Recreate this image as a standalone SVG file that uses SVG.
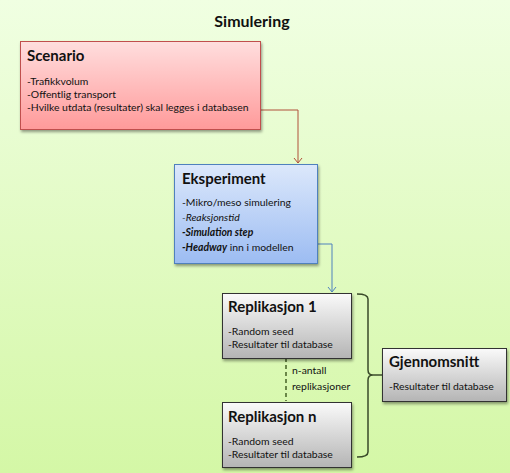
<svg xmlns="http://www.w3.org/2000/svg" width="510" height="473" viewBox="0 0 510 473">
<defs>
<linearGradient id="bg" x1="0" y1="0" x2="0" y2="1"><stop offset="0" stop-color="#f0ffe2"/><stop offset="1" stop-color="#d4f7a6"/></linearGradient>
<linearGradient id="gRed" x1="0" y1="0" x2="0" y2="1"><stop offset="0" stop-color="#ffdede"/><stop offset="1" stop-color="#ff9a9a"/></linearGradient>
<linearGradient id="gBlue" x1="0" y1="0" x2="0" y2="1"><stop offset="0" stop-color="#dce8fb"/><stop offset="1" stop-color="#9cbcf2"/></linearGradient>
<linearGradient id="gGray" x1="0" y1="0" x2="0" y2="1"><stop offset="0" stop-color="#fafafa"/><stop offset="1" stop-color="#b4b4b4"/></linearGradient>
<filter id="sh" x="-10%" y="-10%" width="130%" height="130%"><feGaussianBlur in="SourceAlpha" stdDeviation="1.5"/><feOffset dx="1" dy="2"/><feComponentTransfer><feFuncA type="linear" slope="0.4"/></feComponentTransfer><feMerge><feMergeNode/><feMergeNode in="SourceGraphic"/></feMerge></filter>
<marker id="arR" markerWidth="10" markerHeight="10" refX="5" refY="8" markerUnits="userSpaceOnUse" viewBox="0 0 10 10"><path d="M1,3 L5,8 L9,3" fill="none" stroke="#b0503a" stroke-width="1"/></marker>
<marker id="arB" markerWidth="10" markerHeight="10" refX="5" refY="8" markerUnits="userSpaceOnUse" viewBox="0 0 10 10"><path d="M1,3 L5,8 L9,3" fill="none" stroke="#4f81bd" stroke-width="1"/></marker>
</defs>
<style>
text{font-family:Lato,"Liberation Sans",sans-serif;fill:#111}
.t{font-weight:bold;font-size:15px}
.b{font-size:10.4px}
.i{font-style:italic}
.bi{font-style:italic;font-weight:bold}
.red{fill:url(#gRed);stroke:#c0504d;stroke-width:1}
.blue{fill:url(#gBlue);stroke:#4f81bd;stroke-width:1}
.gray{fill:url(#gGray);stroke:#333;stroke-width:1}
</style>
<rect width="510" height="473" fill="url(#bg)"/>
<text x="252" y="27" text-anchor="middle" style="font-weight:bold;font-size:16px">Simulering</text>
<g id="connectors" fill="none">
<path d="M260,110 H298 V163" stroke="#b0503a" marker-end="url(#arR)"/>
<path d="M317,244 H332 V292" stroke="#4f81bd" marker-end="url(#arB)"/>
<path d="M286,358 V401" stroke="#2f4a10" stroke-dasharray="4,3" stroke-width="1.3"/>
<path d="M357,294 Q368,294 368,299 V370 Q368,375 373,375 Q368,375 368,380 V452 Q368,457 357,457" stroke="#3a4a2a" stroke-width="1.5"/>
<path d="M373,375 H382" stroke="#3a4a2a" stroke-width="1.5"/>
<text x="292" y="374" class="b">n-antall</text>
<text x="292" y="390" class="b">replikasjoner</text>
</g>
<g id="scenario">
<rect x="20.5" y="41.5" width="240" height="88" class="red" filter="url(#sh)"/>
<text x="27" y="61" class="t">Scenario</text>
<text x="27" y="85" class="b">-Trafikkvolum</text>
<text x="27" y="98" class="b">-Offentlig transport</text>
<text x="27" y="111" class="b">-Hvilke utdata (resultater) skal legges i databasen</text>
</g>
<g id="eksperiment">
<rect x="174.5" y="164.5" width="143" height="99" class="blue" filter="url(#sh)"/>
<text x="182" y="184" class="t">Eksperiment</text>
<text x="182" y="206" class="b">-Mikro/meso simulering</text>
<text x="182" y="221" class="b i">-Reaksjonstid</text>
<text x="182" y="236" class="b bi">-Simulation step</text>
<text x="182" y="251" class="b"><tspan class="bi">-Headway</tspan> inn i modellen</text>
</g>
<g id="replikasjon1">
<rect x="222.5" y="293.5" width="129" height="65" class="gray" filter="url(#sh)"/>
<text x="228" y="312" class="t">Replikasjon 1</text>
<text x="228" y="335" class="b">-Random seed</text>
<text x="228" y="348" class="b">-Resultater til database</text>
</g>
<g id="replikasjonn">
<rect x="222.5" y="402.5" width="129" height="65" class="gray" filter="url(#sh)"/>
<text x="228" y="422" class="t">Replikasjon n</text>
<text x="228" y="445" class="b">-Random seed</text>
<text x="228" y="458" class="b">-Resultater til database</text>
</g>
<g id="gjennomsnitt">
<rect x="382.5" y="348.5" width="124" height="53" class="gray" filter="url(#sh)"/>
<text x="389" y="367" class="t">Gjennomsnitt</text>
<text x="389" y="390" class="b">-Resultater til database</text>
</g>
</svg>
